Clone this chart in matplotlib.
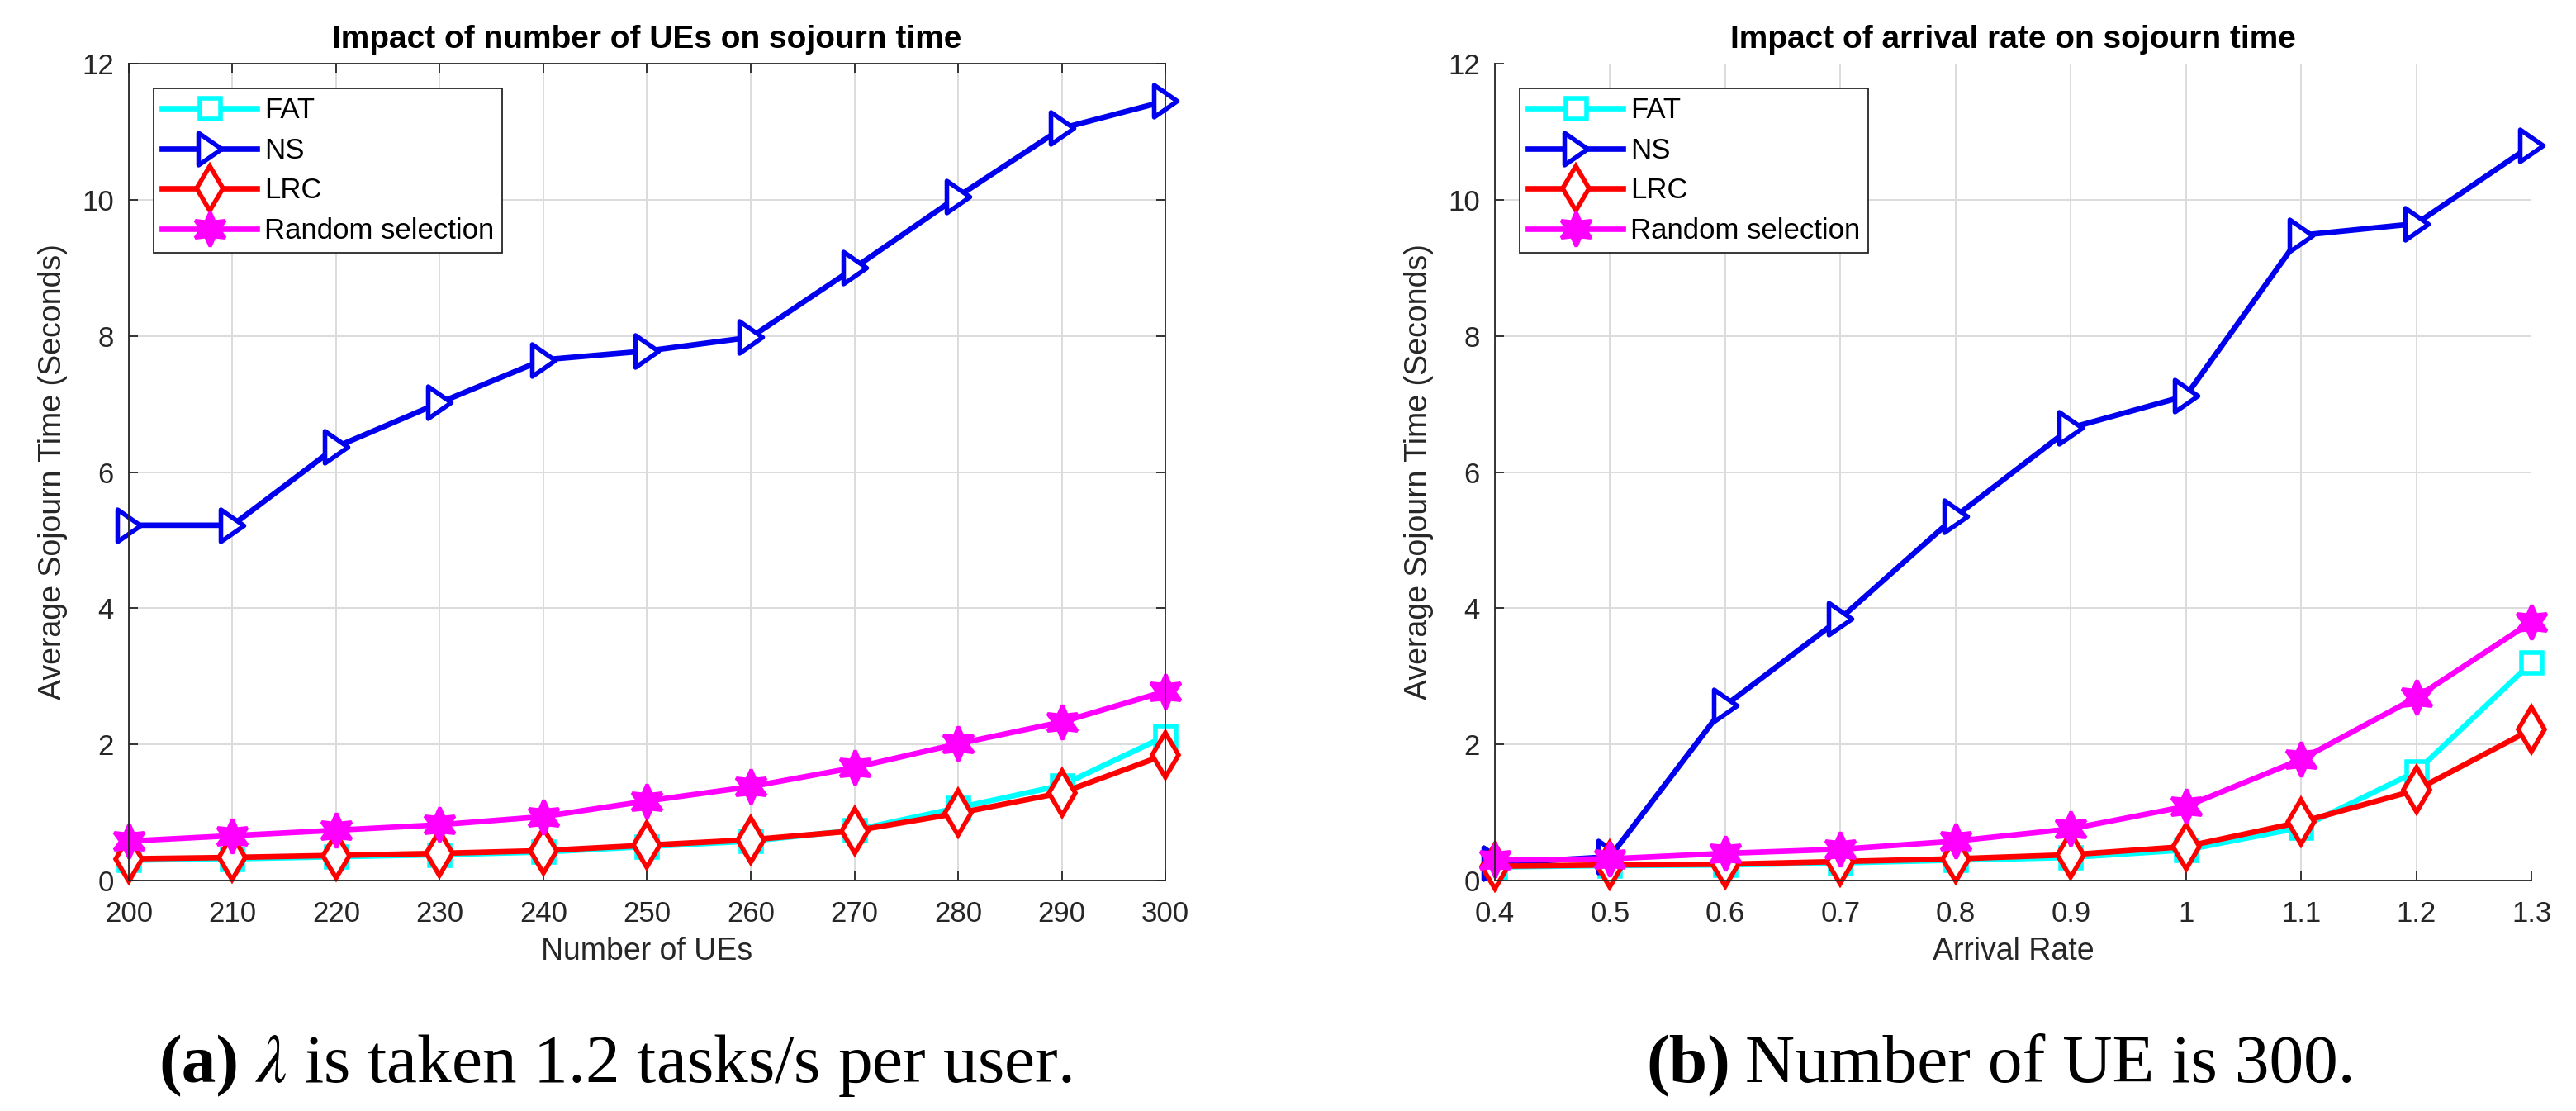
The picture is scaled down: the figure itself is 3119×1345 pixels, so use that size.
import numpy as np
import matplotlib.pyplot as plt
from matplotlib.path import Path
from matplotlib.ticker import FormatStrFormatter

plt.rcParams['font.family'] = ['Liberation Sans', 'DejaVu Sans']
plt.rcParams['mathtext.fontset'] = 'stix'

# (a) number of UEs
ues = [200, 210, 220, 230, 240, 250, 260, 270, 280, 290, 300]
fat_a = [0.30, 0.32, 0.35, 0.38, 0.42, 0.50, 0.58, 0.74, 1.07, 1.40, 2.12]
ns_a = [5.22, 5.22, 6.37, 7.02, 7.65, 7.78, 7.98, 9.0, 10.05, 11.05, 11.45]
lrc_a = [0.32, 0.34, 0.37, 0.40, 0.44, 0.52, 0.60, 0.73, 0.99, 1.29, 1.85]
rand_a = [0.58, 0.66, 0.74, 0.82, 0.94, 1.17, 1.38, 1.66, 2.01, 2.33, 2.78]

# (b) arrival rate
rates = [0.4, 0.5, 0.6, 0.7, 0.8, 0.9, 1.0, 1.1, 1.2, 1.3]
fat_b = [0.20, 0.22, 0.23, 0.26, 0.30, 0.34, 0.45, 0.78, 1.60, 3.20]
ns_b = [0.25, 0.35, 2.57, 3.85, 5.35, 6.65, 7.12, 9.48, 9.65, 10.8]
lrc_b = [0.21, 0.23, 0.24, 0.28, 0.32, 0.38, 0.50, 0.86, 1.33, 2.22]
rand_b = [0.30, 0.32, 0.40, 0.46, 0.58, 0.76, 1.09, 1.78, 2.69, 3.80]

labels = ['FAT', 'NS', 'LRC', 'Random selection']
axcol = '#262626'
# MATLAB-like right triangle, a bit taller than wide
tri = Path([(0.72, 0), (-0.72, 1), (-0.72, -1), (0.72, 0)],
           [Path.MOVETO, Path.LINETO, Path.LINETO, Path.CLOSEPOLY])


def draw(ax, x, series, box):
    styles = [
        dict(color='cyan', marker='s', ms=18, mfc='white', mew=4.0),
        dict(color='#0000ee', marker=tri, ms=28, mfc='white', mew=4.0),
        dict(color='red', marker='d', ms=28, mfc='white', mew=4.0),
        dict(color='magenta', marker=(6, 1, 0), ms=30, mfc='magenta', mew=3.0),
    ]
    for y, lab, st in zip(series, labels, styles):
        ax.plot(x, y, label=lab, lw=4.8, clip_on=False, **st)

    ax.set_ylim(0, 12)
    ax.set_yticks(range(0, 13, 2))
    ax.grid(True, color='#dcdcdc', lw=1.4)
    ax.set_axisbelow(True)
    for s in ax.spines.values():
        s.set_color(axcol)
        s.set_linewidth(1.3)
    if not box:
        ax.spines['top'].set_visible(False)
        ax.spines['right'].set_visible(False)
    ax.tick_params(direction='in', length=8, width=1.3, colors=axcol,
                   labelsize=25, top=box, right=box)
    ax.tick_params(axis='x', pad=17)
    ax.tick_params(axis='y', pad=13)
    ax.set_ylabel('Average Sojourn Time (Seconds)', fontsize=27, color=axcol)
    ax.yaxis.set_label_coords(-0.059, 0.5)
    leg = ax.legend(loc='upper left', bbox_to_anchor=(0.024, 0.970),
                    borderaxespad=0, fontsize=25, handlelength=3.3,
                    handletextpad=0.25, labelspacing=0.45, borderpad=0.3,
                    fancybox=False, framealpha=1)
    leg.get_frame().set_edgecolor(axcol)
    leg.get_frame().set_linewidth(1.3)


fig = plt.figure(figsize=(31.19, 13.45), dpi=100)
ax1 = fig.add_axes([0.0500, 0.2074, 0.4024, 0.7353])
ax2 = fig.add_axes([0.5803, 0.2074, 0.4024, 0.7353])

draw(ax1, ues, [fat_a, ns_a, lrc_a, rand_a], True)
ax1.set_xlim(200, 300)
ax1.set_xticks(ues)
ax1.set_xlabel('Number of UEs', fontsize=27, color=axcol, labelpad=8)
ax1.set_title('Impact of number of UEs on sojourn time', fontsize=28,
              fontweight='bold', pad=14)

draw(ax2, rates, [fat_b, ns_b, lrc_b, rand_b], False)
ax2.set_xlim(0.4, 1.3)
ax2.set_xticks(rates)
ax2.xaxis.set_major_formatter(FormatStrFormatter('%g'))
ax2.set_xlabel('Arrival Rate', fontsize=27, color=axcol, labelpad=8)
ax2.set_title('Impact of arrival rate on sojourn time', fontsize=28,
              fontweight='bold', pad=14)

cap = dict(fontsize=60, family='Liberation Serif', va='baseline')
fig.text(290 / 3119, 1 - 1310 / 1345, '(a)', ha='right', fontweight='bold', **cap)
fig.text(308 / 3119, 1 - 1310 / 1345, r'$\lambda$ is taken 1.2 tasks/s per user.',
         ha='left', **cap)
fig.text(2095 / 3119, 1 - 1310 / 1345, '(b)', ha='right', fontweight='bold', **cap)
fig.text(2113 / 3119, 1 - 1310 / 1345, 'Number of UE is 300.', ha='left', **cap)

fig.savefig('out.png', dpi=100)
